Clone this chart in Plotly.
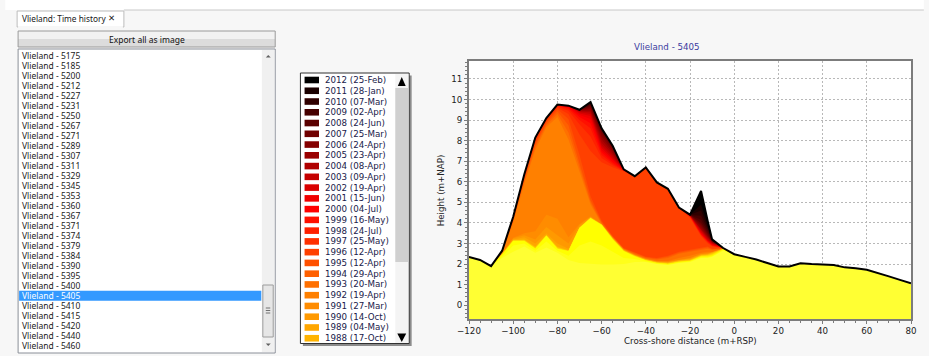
import plotly.graph_objects as go

# ---------------- data ----------------
years = [2012, 2011, 2010, 2009, 2008, 2007, 2006, 2005, 2004, 2003, 2002, 2001, 2000,
         1999, 1998, 1997, 1996, 1995, 1994, 1993, 1992, 1991, 1990, 1989, 1988,
         1987, 1986, 1985, 1984, 1983, 1982, 1981, 1980]
survey_dates = ["25-Feb", "28-Jan", "07-Mar", "02-Apr", "24-Jun", "25-Mar", "24-Apr", "23-Apr",
                "08-Apr", "09-Apr", "19-Apr", "15-Jun", "04-Jul", "16-May", "24-Jul", "25-May",
                "12-Apr", "12-Apr", "29-Apr", "20-Mar", "19-Apr", "27-Mar", "14-Oct", "04-May", "17-Oct"]
year_colors = ["#000000", "#1a0000", "#300000", "#460000", "#5a0000", "#700000", "#850000",
               "#9a0000", "#b00000", "#c50000", "#da0000", "#f00000", "#ff0000",
               "#ff1000", "#ff2000", "#ff3000", "#ff4000", "#ff5000", "#ff6000", "#ff7000",
               "#ff8000", "#ff8c00", "#ff9900", "#ffa600", "#ffb300",
               "#ffc000", "#ffcc00", "#ffd900", "#ffe600", "#fff200", "#ffff00", "#ffff1a", "#ffff33"]

transect_ids = [5175, 5185, 5200, 5212, 5227, 5231, 5250, 5267, 5271, 5289, 5307, 5311, 5329,
                5345, 5353, 5360, 5367, 5371, 5374, 5379, 5384, 5390, 5395, 5400, 5405, 5410,
                5415, 5420, 5440, 5460]
selected_id = 5405

# cross-shore positions (m+RSP)
x_land = [-120, -115, -110]
h_land = [2.35, 2.20, 1.90]
x_dune = [-105, -100, -95, -90, -85, -80, -75, -70, -65, -60, -55, -50, -45, -40, -35, -30,
          -25, -20, -15, -12, -10, -5]
x_sea = [0, 5, 10, 15, 20, 25, 30, 35, 40, 45, 50, 55, 60, 65, 70, 75, 80]
h_sea = [2.48, 2.35, 2.22, 2.05, 1.88, 1.88, 2.04, 2.00, 1.97, 1.95, 1.84, 1.80, 1.72, 1.57,
         1.40, 1.23, 1.07]

# dune heights (m+NAP) per survey year on x_dune
h_2012 = [2.65, 4.30, 6.35, 8.15, 9.10, 9.75, 9.70, 9.50, 9.88, 8.60, 7.75, 6.60, 6.27, 6.70, 5.97, 5.66, 4.75, 4.40, 5.55, 4.10, 3.20, 2.78]
h_2011 = [2.65, 4.30, 6.35, 8.15, 9.10, 9.75, 9.70, 9.50, 9.86, 8.59, 7.75, 6.60, 6.27, 6.70, 5.97, 5.66, 4.75, 4.40, 4.90, 3.95, 3.19, 2.78]
h_2010 = [2.65, 4.30, 6.35, 8.15, 9.10, 9.75, 9.70, 9.50, 9.84, 8.58, 7.74, 6.60, 6.27, 6.70, 5.97, 5.66, 4.75, 4.40, 4.60, 3.80, 3.18, 2.78]
h_2009 = [2.65, 4.30, 6.35, 8.15, 9.10, 9.75, 9.70, 9.50, 9.80, 8.56, 7.72, 6.60, 6.27, 6.70, 5.97, 5.66, 4.75, 4.39, 4.35, 3.70, 3.16, 2.78]
h_2008 = [2.65, 4.30, 6.35, 8.15, 9.10, 9.75, 9.70, 9.50, 9.75, 8.52, 7.70, 6.60, 6.27, 6.70, 5.97, 5.66, 4.75, 4.39, 4.15, 3.60, 3.14, 2.78]
h_2007 = [2.65, 4.30, 6.35, 8.15, 9.10, 9.75, 9.70, 9.50, 9.70, 8.45, 7.66, 6.60, 6.27, 6.70, 5.97, 5.66, 4.75, 4.38, 4.00, 3.50, 3.12, 2.78]
h_2006 = [2.65, 4.30, 6.35, 8.15, 9.10, 9.75, 9.69, 9.50, 9.62, 8.35, 7.60, 6.60, 6.27, 6.70, 5.97, 5.66, 4.75, 4.38, 3.90, 3.42, 3.10, 2.78]
h_2005 = [2.65, 4.30, 6.35, 8.15, 9.10, 9.75, 9.69, 9.48, 9.55, 8.20, 7.50, 6.59, 6.27, 6.70, 5.97, 5.66, 4.75, 4.37, 3.80, 3.35, 3.07, 2.78]
h_2004 = [2.65, 4.30, 6.35, 8.14, 9.10, 9.75, 9.69, 9.45, 9.45, 8.05, 7.40, 6.59, 6.27, 6.70, 5.97, 5.66, 4.75, 4.36, 3.72, 3.30, 3.05, 2.78]
h_2003 = [2.65, 4.30, 6.35, 8.14, 9.10, 9.75, 9.68, 9.42, 9.38, 7.90, 7.30, 6.59, 6.27, 6.70, 5.97, 5.66, 4.75, 4.35, 3.65, 3.25, 3.02, 2.78]
h_2002 = [2.65, 4.29, 6.34, 8.13, 9.10, 9.75, 9.68, 9.38, 9.30, 7.76, 7.20, 6.58, 6.27, 6.70, 5.97, 5.66, 4.75, 4.34, 3.60, 3.20, 3.00, 2.78]
h_2001 = [2.65, 4.29, 6.34, 8.13, 9.10, 9.75, 9.68, 9.32, 9.20, 7.64, 7.10, 6.58, 6.27, 6.70, 5.97, 5.66, 4.75, 4.33, 3.55, 3.15, 2.97, 2.78]
h_2000 = [2.65, 4.28, 6.33, 8.12, 9.10, 9.75, 9.65, 9.25, 9.05, 7.52, 7.02, 6.57, 6.27, 6.70, 5.97, 5.66, 4.75, 4.32, 3.50, 3.12, 2.95, 2.78]
h_1999 = [2.65, 4.27, 6.33, 8.12, 9.10, 9.72, 9.60, 9.15, 8.85, 7.42, 6.95, 6.56, 6.27, 6.70, 5.97, 5.66, 4.75, 4.31, 3.45, 3.10, 2.92, 2.78]
h_1998 = [2.64, 4.25, 6.30, 8.10, 9.07, 9.70, 9.55, 9.00, 8.60, 7.30, 6.88, 6.54, 6.27, 6.70, 5.97, 5.66, 4.75, 4.30, 3.42, 3.08, 2.90, 2.78]
h_1997 = [2.63, 4.22, 6.27, 8.05, 9.04, 9.66, 9.45, 8.80, 8.20, 7.15, 6.80, 6.52, 6.26, 6.69, 5.96, 5.65, 4.74, 4.28, 3.40, 3.05, 2.88, 2.78]
h_1996 = [2.62, 4.20, 6.22, 8.00, 9.00, 9.60, 9.30, 8.30, 7.50, 6.95, 6.70, 6.50, 6.25, 6.68, 5.95, 5.64, 4.72, 4.25, 3.35, 3.00, 2.85, 2.78]
h_1995 = [2.60, 4.15, 6.15, 7.90, 8.92, 9.52, 9.05, 7.30, 5.30, 4.10, 3.36, 2.78, 2.56, 2.36, 2.30, 2.40, 2.60, 2.70, 2.80, 2.85, 2.75, 2.77]
h_1994 = [2.58, 4.10, 6.08, 7.80, 8.85, 9.42, 8.75, 6.90, 5.10, 4.05, 3.34, 2.76, 2.53, 2.33, 2.26, 2.35, 2.55, 2.65, 2.75, 2.80, 2.72, 2.77]
h_1993 = [2.57, 4.05, 6.00, 7.70, 8.75, 9.30, 8.40, 6.70, 5.00, 4.00, 3.32, 2.74, 2.50, 2.30, 2.22, 2.30, 2.50, 2.60, 2.70, 2.75, 2.70, 2.76]
h_1992 = [2.55, 4.00, 5.90, 7.55, 8.65, 9.15, 8.05, 6.50, 4.90, 3.95, 3.30, 2.72, 2.47, 2.27, 2.15, 2.15, 2.30, 2.40, 2.55, 2.60, 2.60, 2.76]
h_1991 = [2.53, 3.28, 3.50, 3.60, 4.40, 4.20, 3.30, 3.95, 4.32, 3.94, 3.28, 2.70, 2.45, 2.25, 2.13, 2.12, 2.22, 2.30, 2.50, 2.53, 2.58, 2.75]
h_1990 = [2.52, 3.25, 3.40, 3.20, 3.80, 3.40, 3.00, 3.90, 4.30, 3.93, 3.27, 2.69, 2.44, 2.24, 2.12, 2.10, 2.20, 2.28, 2.48, 2.51, 2.57, 2.75]
h_1989 = [2.51, 3.20, 3.30, 3.00, 3.50, 3.00, 2.75, 3.80, 4.28, 3.93, 3.26, 2.68, 2.43, 2.23, 2.11, 2.09, 2.19, 2.25, 2.46, 2.49, 2.56, 2.75]
h_1988 = [2.50, 3.18, 3.20, 2.85, 3.42, 2.85, 2.68, 3.78, 4.26, 3.92, 3.25, 2.67, 2.42, 2.22, 2.10, 2.07, 2.17, 2.22, 2.44, 2.47, 2.54, 2.74]
h_1987 = [2.49, 3.16, 3.18, 2.82, 3.40, 2.82, 2.66, 3.77, 4.25, 3.92, 3.24, 2.66, 2.41, 2.21, 2.09, 2.05, 2.15, 2.20, 2.42, 2.45, 2.52, 2.74]
h_1986 = [2.48, 3.15, 3.16, 2.80, 3.40, 2.80, 2.65, 3.76, 4.24, 3.91, 3.23, 2.65, 2.40, 2.20, 2.08, 2.04, 2.14, 2.19, 2.41, 2.44, 2.50, 2.73]
h_1985 = [2.47, 3.14, 3.14, 2.78, 3.39, 2.78, 2.64, 3.76, 4.24, 3.91, 3.22, 2.64, 2.39, 2.19, 2.07, 2.02, 2.12, 2.17, 2.40, 2.42, 2.48, 2.73]
h_1984 = [2.46, 3.13, 3.13, 2.76, 3.38, 2.76, 2.63, 3.75, 4.23, 3.90, 3.21, 2.63, 2.38, 2.18, 2.06, 2.01, 2.11, 2.16, 2.38, 2.40, 2.45, 2.72]
h_1983 = [2.45, 3.12, 3.12, 2.75, 3.38, 2.75, 2.62, 3.75, 4.23, 3.90, 3.20, 2.62, 2.37, 2.17, 2.05, 2.00, 2.10, 2.15, 2.37, 2.38, 2.43, 2.72]
h_1982 = [2.45, 3.12, 3.12, 2.75, 3.38, 2.75, 2.62, 3.75, 4.23, 3.90, 3.20, 2.62, 2.37, 2.17, 2.05, 2.00, 2.10, 2.15, 2.35, 2.36, 2.40, 2.70]
h_1981 = [2.35, 2.90, 3.00, 2.65, 3.10, 2.65, 2.40, 2.90, 3.10, 2.90, 2.60, 2.30, 2.25, 2.13, 2.02, 1.97, 2.07, 2.12, 2.32, 2.33, 2.37, 2.67]
h_1980 = [2.30, 2.60, 2.85, 2.55, 2.80, 2.55, 2.20, 2.05, 2.00, 1.98, 1.98, 2.00, 2.10, 2.10, 2.00, 1.95, 2.05, 2.10, 2.30, 2.30, 2.35, 2.65]

dune_profiles = [h_2012, h_2011, h_2010, h_2009, h_2008, h_2007, h_2006, h_2005, h_2004, h_2003,
                 h_2002, h_2001, h_2000, h_1999, h_1998, h_1997, h_1996, h_1995, h_1994, h_1993,
                 h_1992, h_1991, h_1990, h_1989, h_1988, h_1987, h_1986, h_1985, h_1984, h_1983,
                 h_1982, h_1981, h_1980]

# ---------------- geometry helpers ----------------
W, H = 929, 356
ML, MR, MT, MB = 469, 13, 61, 37
PW, PH = W - ML - MR, H - MT - MB
X_MIN, X_MAX = -120, 80
Y_MIN, Y_MAX = -0.67, 11.87
BASE = -5


def px(x):
    return (x - ML) / PW


def py(y):
    return (H - MB - y) / PH


shapes = []
annotations = []


def rect(x0, y0, x1, y1, fill, line=None, lw=1):
    shapes.append(dict(type="rect", xref="paper", yref="paper", layer="above",
                       x0=px(x0), x1=px(x1), y0=py(y1), y1=py(y0), fillcolor=fill,
                       line=dict(color=line if line else fill, width=lw if line else 0)))


def hline(x0, x1, y, color, lw=1):
    shapes.append(dict(type="line", xref="paper", yref="paper", layer="above",
                       x0=px(x0), x1=px(x1), y0=py(y), y1=py(y), line=dict(color=color, width=lw)))


def tri(pts, color):
    path = "M " + " L ".join(f"{px(a)},{py(b)}" for a, b in pts) + " Z"
    shapes.append(dict(type="path", xref="paper", yref="paper", layer="above", path=path,
                       fillcolor=color, line=dict(color=color, width=0)))


def text(x, y, s, size, color, family, anchor="left", angle=0):
    annotations.append(dict(xref="paper", yref="paper", x=px(x), y=py(y), text=s,
                            showarrow=False, xanchor=anchor, yanchor="middle", textangle=angle,
                            borderpad=0, font=dict(size=size, color=color, family=family)))


# ---------------- chart traces ----------------
fig = go.Figure()
x_all = x_land + x_dune + x_sea
for yr, prof, col in zip(years, dune_profiles, year_colors):
    y_all = h_land + prof + h_sea
    fig.add_trace(go.Scatter(x=x_all + [X_MAX, X_MIN], y=y_all + [BASE, BASE], fill="toself",
                             fillcolor=col, mode="lines", line=dict(width=0), hoverinfo="skip",
                             name=str(yr), showlegend=False))
fig.add_trace(go.Scatter(x=x_all, y=h_land + h_2012 + h_sea, mode="lines",
                         line=dict(color="black", width=2), hoverinfo="skip", showlegend=False))

# ---------------- UI chrome (left panel) ----------------
UI_FONT = "Noto Sans, Open Sans, sans-serif"
CH_FONT = "DejaVu Sans, Verdana, sans-serif"

rect(0, 0, W, 10, "#ffffff")
hline(120, W, 10, "#c8c8c8")
rect(12, 11, 120, 27, "#ffffff", "#bcbcbc")
rect(13, 26, 119, 28, "#f7f7f7")
text(16, 18.5, "Vlieland: Time history", 8.3, "#202020", UI_FONT)
text(107, 18.5, "<b>✕</b>", 8.5, "#202020", CH_FONT, anchor="center")

# export button
rect(13, 31, 273, 39, "#f2f2f2")
rect(13, 39, 273, 47, "#dcdcdc")
rect(13, 31, 273, 47, "rgba(0,0,0,0)", "#9a9a9a")
text(143, 39.5, "Export all as image", 8.5, "#101010", UI_FONT, anchor="center")

# list box
rect(13, 49, 273, 353, "#ffffff", "#8a8f98")
for i, tid in enumerate(transect_ids):
    yc = 55.7 + 10 * i
    if tid == selected_id:
        rect(14, yc - 5, 259, yc + 5, "#3399ff")
        text(15.5, yc, f"Vlieland - {tid}", 8.5, "#ffffff", UI_FONT)
    else:
        text(15.5, yc, f"Vlieland - {tid}", 8.5, "#1a1a1a", UI_FONT)
# list scrollbar
rect(259.5, 50, 272, 352, "#f0f0f0")
tri([(263.5, 57.5), (268.5, 57.5), (266, 55)], "#606060")
tri([(263.5, 343.5), (268.5, 343.5), (266, 346)], "#606060")
rect(260.5, 285, 271, 337, "#e6e6e6", "#9c9c9c")
for gy in (308, 310.5, 313):
    hline(263.5, 268, gy, "#707070")

# colour legend box
rect(301, 75.5, 411, 346, "#8c8c8c")
rect(298.5, 73, 408.5, 343.5, "#ffffff", "#303030")
rect(394.5, 74, 407.5, 343, "#f4f4f4")
rect(394.5, 88, 407.5, 262, "#d0d0d0")
tri([(397, 86), (405, 86), (401, 77)], "#000000")
tri([(396.5, 333.5), (405.5, 333.5), (401, 342)], "#000000")
for i, (yr, dt) in enumerate(zip(years, survey_dates)):
    yc = 80 + 10.76 * i
    rect(302.7, yc - 3.3, 317.3, yc + 3.3, year_colors[i])
    text(322.3, yc, f"{yr} ({dt})", 8.7, "#20204a", CH_FONT)

# chart titles
text(669.5, 47, "Vlieland - 5405", 8.7, "#3c3ca0", CH_FONT, anchor="center")
text(441, 190, "Height (m+NAP)", 8.7, "#222222", CH_FONT, anchor="center", angle=-90)
text(692.5, 340.7, "Cross-shore distance (m+RSP)", 8.7, "#222222", CH_FONT, anchor="center")

axis_common = dict(showgrid=True, gridcolor="#b8b8b8", griddash="2px,2px", gridwidth=1,
                   zeroline=False, showline=True, linecolor="#7c7c7c", linewidth=2, mirror=True,
                   ticks="outside", ticklen=3, tickcolor="#7c7c7c", fixedrange=True,
                   tickfont=dict(family=CH_FONT, size=8.7, color="#222222"))

fig.update_layout(
    width=W, height=H, autosize=False,
    margin=dict(l=ML, r=MR, t=MT, b=MB, pad=0),
    paper_bgcolor="#f7f7f7", plot_bgcolor="#ffffff",
    showlegend=False, hovermode=False,
    xaxis=dict(range=[X_MIN, X_MAX], tick0=-120, dtick=20,
               minor=dict(dtick=5, ticklen=2, tickcolor="#7c7c7c", showgrid=False), **axis_common),
    yaxis=dict(range=[Y_MIN, Y_MAX], tick0=0, dtick=1,
               minor=dict(dtick=0.2, ticklen=2, tickcolor="#7c7c7c", showgrid=False), **axis_common),
    shapes=shapes, annotations=annotations,
)

fig.write_html("out.html", config={"displayModeBar": False},
               post_script="document.body.style.margin='0px';document.body.style.overflow='hidden';")
